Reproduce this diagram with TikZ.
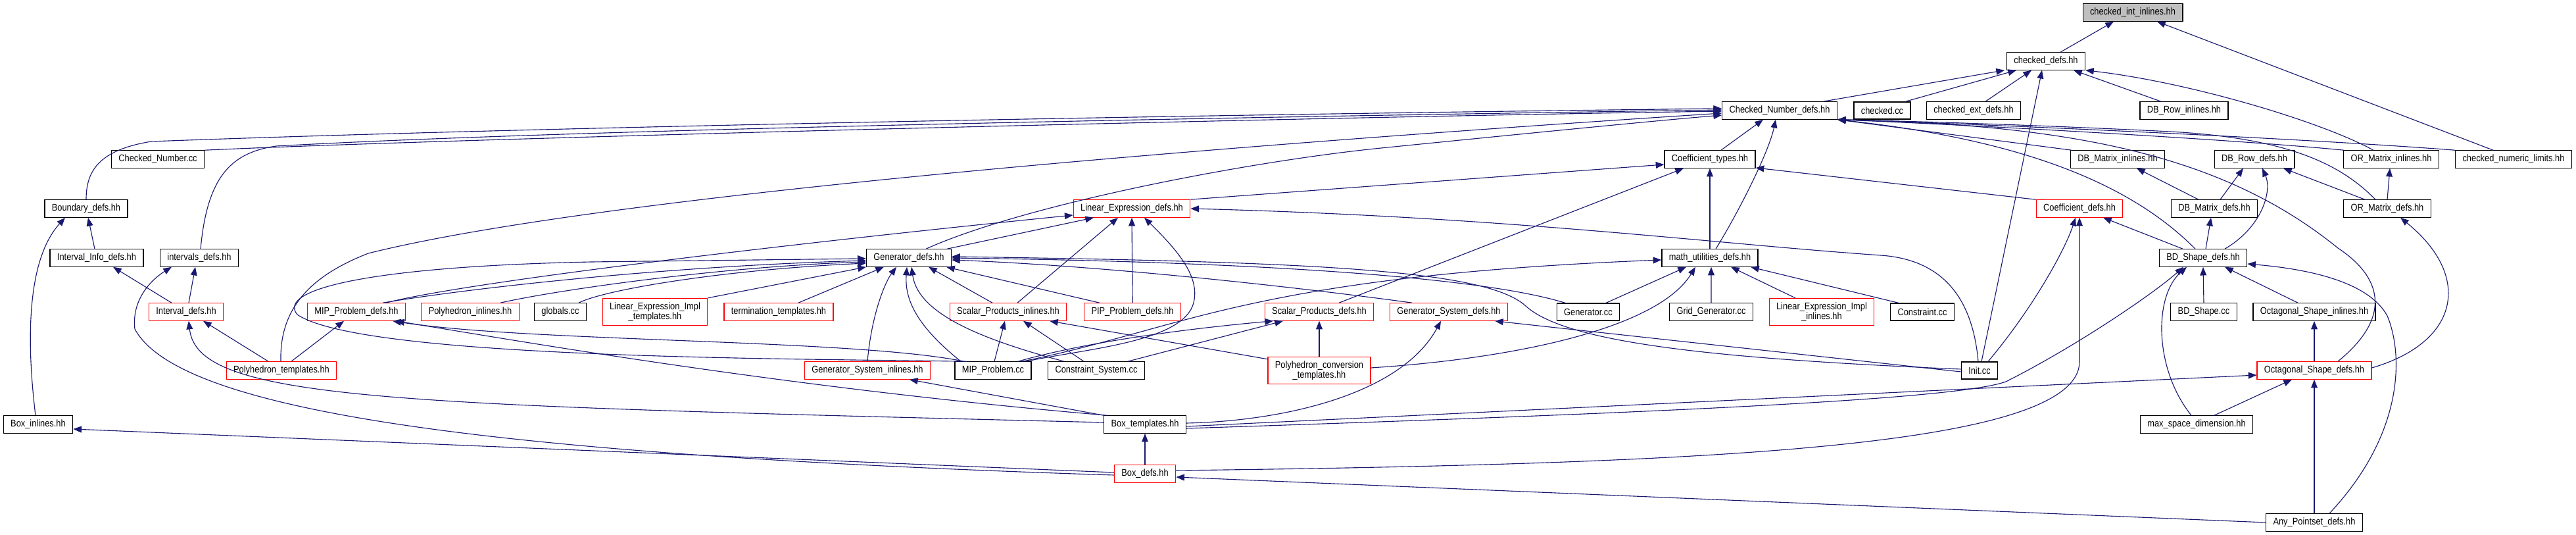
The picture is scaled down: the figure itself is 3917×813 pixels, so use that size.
\documentclass[tikz,border=0pt]{standalone}
\usepackage{fontspec}
\usetikzlibrary{arrows.meta}
\newfontfamily\doxfont{Liberation Sans}[FakeStretch=0.87]
\definecolor{edgeblue}{HTML}{191970}
\definecolor{rootgray}{HTML}{BFBFBF}
\begin{document}
\begin{tikzpicture}[x=0.01cm,y=-0.01cm,
 filebox/.style={draw=black,fill=white,line width=.35pt,inner xsep=3.1pt,inner ysep=1.8pt,minimum height=.26cm,align=center,font=\doxfont\fontsize{4.2}{4.2}\selectfont},
 redbox/.style={filebox,draw=red},
 rootbox/.style={filebox,fill=rootgray},
 incl/.style={draw=edgeblue,line width=.32pt,-{Triangle[length=3.6pt,width=2.8pt]}}]
 \useasboundingbox (0,0) rectangle (3917,813);
 \node[rootbox] (cii) at (3243,19) {checked\_int\_inlines.hh};
 \node[filebox] (cdefs) at (3111,93) {checked\_defs.hh};
 \node[filebox] (cnd) at (2706,168) {Checked\_Number\_defs.hh};
 \node[filebox] (ccc) at (2862,168) {checked.cc};
 \node[filebox] (cext) at (3001,168) {checked\_ext\_defs.hh};
 \node[filebox] (dbri) at (3321,168) {DB\_Row\_inlines.hh};
 \node[filebox] (cncc) at (240,242) {Checked\_Number.cc};
 \node[filebox] (ctypes) at (2600,242) {Coefficient\_types.hh};
 \node[filebox] (dbmi) at (3220,242) {DB\_Matrix\_inlines.hh};
 \node[filebox] (dbrd) at (3428,242) {DB\_Row\_defs.hh};
 \node[filebox] (ormi) at (3636,242) {OR\_Matrix\_inlines.hh};
 \node[filebox] (cnl) at (3822,242) {checked\_numeric\_limits.hh};
 \node[filebox] (bnd) at (131,317) {Boundary\_defs.hh};
 \node[redbox] (led) at (1721,317) {Linear\_Expression\_defs.hh};
 \node[redbox] (cdef) at (3162,317) {Coefficient\_defs.hh};
 \node[filebox] (dbmd) at (3367,317) {DB\_Matrix\_defs.hh};
 \node[filebox] (ormd) at (3630,317) {OR\_Matrix\_defs.hh};
 \node[filebox] (iid) at (147,392) {Interval\_Info\_defs.hh};
 \node[filebox] (ivd) at (303,392) {intervals\_defs.hh};
 \node[filebox] (gd) at (1382,392) {Generator\_defs.hh};
 \node[filebox] (mud) at (2600,392) {math\_utilities\_defs.hh};
 \node[filebox] (bdsd) at (3350,392) {BD\_Shape\_defs.hh};
 \node[redbox] (intd) at (283,474) {Interval\_defs.hh};
 \node[redbox] (mipd) at (542,474) {MIP\_Problem\_defs.hh};
 \node[redbox] (phi) at (715,474) {Polyhedron\_inlines.hh};
 \node[filebox] (glob) at (852,474) {globals.cc};
 \node[redbox] (leit) at (996,474) {Linear\_Expression\_Impl\\\_templates.hh};
 \node[redbox] (term) at (1184,474) {termination\_templates.hh};
 \node[redbox] (spi) at (1533,474) {Scalar\_Products\_inlines.hh};
 \node[redbox] (pipd) at (1722,474) {PIP\_Problem\_defs.hh};
 \node[redbox] (spd) at (2006,474) {Scalar\_Products\_defs.hh};
 \node[redbox] (gsd) at (2203,474) {Generator\_System\_defs.hh};
 \node[filebox] (gcc) at (2415,474) {Generator.cc};
 \node[filebox] (ggcc) at (2602,474) {Grid\_Generator.cc};
 \node[redbox] (leii) at (2770,474) {Linear\_Expression\_Impl\\\_inlines.hh};
 \node[filebox] (ccc2) at (2923,474) {Constraint.cc};
 \node[filebox] (bdscc) at (3351,474) {BD\_Shape.cc};
 \node[filebox] (osi) at (3519,474) {Octagonal\_Shape\_inlines.hh};
 \node[redbox] (pht) at (428,563) {Polyhedron\_templates.hh};
 \node[redbox] (gsi) at (1319,563) {Generator\_System\_inlines.hh};
 \node[filebox] (mipcc) at (1510,563) {MIP\_Problem.cc};
 \node[filebox] (cscc) at (1667,563) {Constraint\_System.cc};
 \node[redbox] (phct) at (2006,563) {Polyhedron\_conversion\\\_templates.hh};
 \node[filebox] (init) at (3010,563) {Init.cc};
 \node[redbox] (osd) at (3519,563) {Octagonal\_Shape\_defs.hh};
 \node[filebox] (boxi) at (58,645) {Box\_inlines.hh};
 \node[filebox] (boxt) at (1741,645) {Box\_templates.hh};
 \node[filebox] (msd) at (3340,645) {max\_space\_dimension.hh};
 \node[redbox] (boxd) at (1741,720) {Box\_defs.hh};
 \node[filebox] (apd) at (3519,794) {Any\_Pointset\_defs.hh};
 \draw[incl] ([xshift=.22cm]cdefs.north) -- ([xshift=-.29cm]cii.south);
 \draw[incl] ([xshift=-.31cm]cnl.north) -- ([xshift=.37cm]cii.south);
 \draw[incl] ([xshift=.66cm]cnd.north) -- ([xshift=-.63cm]cdefs.south);
 \draw[incl] ([xshift=.35cm]ccc.north) -- ([xshift=-.45cm]cdefs.south);
 \draw[incl] ([xshift=.18cm]cext.north) -- ([xshift=-.22cm]cdefs.south);
 \draw[incl] ([xshift=.03cm]init.north) -- ([xshift=-.06cm]cdefs.south);
 \draw[incl] ([xshift=-.35cm]dbri.north) -- ([xshift=.42cm]cdefs.south);
 \draw[incl] ([xshift=-.27cm]ormi.north) .. controls (3530,185) and (3330,125) .. (cdefs.south east);
 \draw[incl] (ormd.north) -- ([xshift=-.02cm]ormi.south);
 \draw[incl] ([xshift=-.34cm]ormd.north) -- ([xshift=.44cm]dbrd.south);
 \draw[incl] ([xshift=-.18cm]ormd.north) .. controls (3560,250) and (3480,210) .. (3300,200) .. controls (3100,190) and (2900,184) .. (cnd.south east);
 \draw[incl] ([xshift=-.7cm]dbmi.north) -- (cnd.south east);
 \draw[incl] ([xshift=-.72cm]ormi.north) .. controls (3400,212) and (3000,190) .. (cnd.south east);
 \draw[incl] ([xshift=-.89cm]cnl.north) .. controls (3500,210) and (3000,188) .. (cnd.south east);
 \draw[incl] ([xshift=-.12cm]bdsd.north) .. controls (3250,290) and (3100,215) .. (cnd.south east);
 \draw[incl] ([xshift=.36cm]osd.north) .. controls (3640,480) and (3620,420) .. (3555,377) .. controls (3380,235) and (3150,190) .. (cnd.south east);
 \draw[incl] ([xshift=-.24cm]dbmd.north) -- ([xshift=.29cm]dbmi.south);
 \draw[incl] ([xshift=.09cm]dbmd.north) -- ([xshift=-.17cm]dbrd.south);
 \draw[incl] ([xshift=.33cm]bdsd.north) .. controls (3440,345) and (3455,290) .. ([xshift=.12cm]dbrd.south);
 \draw[incl] ([xshift=.04cm]bdsd.north) -- ([xshift=-.05cm]dbmd.south);
 \draw[incl] ([xshift=-.31cm]bdsd.north) -- ([xshift=.36cm]cdef.south);
 \draw[incl] ([xshift=-.25cm]osi.north) -- ([xshift=.33cm]bdsd.south);
 \draw[incl] (bdscc.north) -- (bdsd.south);
 \draw[incl] ([xshift=-.08cm]msd.north) .. controls (3275,560) and (3275,450) .. ([xshift=-.25cm]bdsd.south);
 \draw[incl] ([xshift=.27cm]msd.north) -- ([xshift=-.34cm]osd.south);
 \draw[incl] (apd.north) -- (osd.south);
 \draw[incl] ([xshift=.23cm]apd.north) .. controls (3655,660) and (3655,540) .. (3630,480) .. controls (3600,425) and (3500,408) .. ([yshift=-.09cm]bdsd.east);
 \draw[incl] (osd.north) -- (osi.south);
 \draw[incl] ([yshift=.04cm]osd.east) .. controls (3740,520) and (3760,420) .. ([xshift=.2cm]ormd.south);
 \draw[incl] (apd.west) -- ([yshift=-.05cm]boxd.east);
 \draw[incl] ([yshift=.05cm]boxd.east) .. controls (2600,705) and (3160,680) .. (3162,550) -- (cdef.south);
 \draw[incl] (boxd.north) -- (boxt.south);
 \draw[incl] ([yshift=.02cm]boxd.west) -- ([yshift=-.07cm]boxi.east);
 \draw[incl] ([yshift=-.02cm]boxd.west) .. controls (700,690) and (270,620) .. (205,500) .. controls (200,455) and (230,425) .. ([xshift=-.42cm]ivd.south);
 \draw[incl] ([xshift=-.04cm]boxi.north) .. controls (38,500) and (45,390) .. ([xshift=-.32cm]bnd.south);
 \draw[incl] ([xshift=-.03cm]iid.north) -- ([xshift=.03cm]bnd.south);
 \draw[incl] ([xshift=-.22cm]intd.north) -- ([xshift=.25cm]iid.south);
 \draw[incl] ([xshift=.04cm]intd.north) -- ([xshift=-.06cm]ivd.south);
 \draw[incl] ([xshift=-.2cm]pht.north) -- ([xshift=.26cm]intd.south);
 \draw[incl] ([xshift=.15cm]pht.north) -- ([xshift=-.19cm]mipd.south);
 \draw[incl] ([yshift=.03cm]boxt.west) .. controls (600,615) and (300,610) .. ([xshift=.04cm]intd.south);
 \draw[incl] ([xshift=.02cm]ivd.north) .. controls (315,270) and (350,232) .. (420,222) .. controls (900,195) and (2000,176) .. ([yshift=.01cm]cnd.west);
 \draw[incl] (bnd.north) .. controls (131,260) and (150,228) .. (230,215) .. controls (900,190) and (2000,172) .. ([yshift=.03cm]cnd.west);
 \draw[incl] (cncc.north east) .. controls (700,210) and (2000,178) .. ([yshift=-.01cm]cnd.west);
 \draw[incl] ([xshift=.26cm]gd.north) .. controls (1560,310) and (1900,245) .. (2100,225) .. controls (2300,205) and (2500,185) .. ([yshift=-.07cm]cnd.west);
 \draw[incl] ([xshift=-.01cm]pht.north) .. controls (425,470) and (470,420) .. (560,385) .. controls (900,300) and (1800,225) .. ([yshift=-.04cm]cnd.west);
 \draw[incl] ([xshift=.58cm]gd.north) -- ([xshift=-.58cm]led.south);
 \draw[incl] ([xshift=.14cm]spi.north) -- ([xshift=-.21cm]led.south);
 \draw[incl] (pipd.north) -- (led.south);
 \draw[incl] ([xshift=.5cm]mipcc.north) .. controls (1650,530) and (1800,520) .. (1815,460) .. controls (1825,420) and (1790,380) .. ([xshift=.19cm]led.south);
 \draw[incl] ([xshift=-.02cm]init.north) .. controls (3000,460) and (2960,395) .. (2860,388) .. controls (2600,370) and (2300,330) .. (led.east);
 \draw[incl] (led.north east) -- ([yshift=-.08cm]ctypes.west);
 \draw[incl] ([xshift=.45cm]mipd.north) .. controls (700,430) and (1200,370) .. ([yshift=-.1cm]led.west);
 \draw[incl] ([xshift=.4cm]mipd.north) .. controls (700,440) and (1000,405) .. ([yshift=-.04cm]gd.west);
 \draw[incl] ([xshift=.46cm]phi.north) .. controls (850,440) and (1100,405) .. ([yshift=-.06cm]gd.west);
 \draw[incl] ([xshift=.28cm]glob.north) .. controls (920,440) and (1100,410) .. ([yshift=-.08cm]gd.west);
 \draw[incl] ([xshift=-.4cm]mipcc.north) .. controls (1200,545) and (550,545) .. (452,478) .. controls (420,440) and (560,405) .. (900,398) -- ([yshift=-.01cm]gd.west);
 \draw[incl] (leit.north east) -- (gd.south west);
 \draw[incl] ([xshift=.3cm]term.north) -- ([xshift=-.38cm]gd.south);
 \draw[incl] (gsi.north) .. controls (1325,480) and (1345,430) .. ([xshift=-.19cm]gd.south);
 \draw[incl] ([xshift=-.49cm]mipcc.north) .. controls (1400,500) and (1375,460) .. ([xshift=-.03cm]gd.south);
 \draw[incl] ([xshift=-.49cm]cscc.north) .. controls (1470,510) and (1395,470) .. ([xshift=.04cm]gd.south);
 \draw[incl] ([xshift=-.24cm]spi.north) -- ([xshift=.3cm]gd.south);
 \draw[incl] ([xshift=-.5cm]pipd.north) -- ([xshift=.57cm]gd.south);
 \draw[incl] ([xshift=.02cm]mipcc.north) -- ([xshift=-.05cm]spi.south);
 \draw[incl] ([xshift=-.19cm]cscc.north) -- ([xshift=.23cm]spi.south);
 \draw[incl] ([yshift=-.04cm]phct.north west) -- ([xshift=.63cm]spi.south);
 \draw[incl] ([xshift=.38cm]mipcc.north) .. controls (1650,520) and (1800,500) .. ([xshift=-.7cm]spd.south);
 \draw[incl] ([xshift=.48cm]cscc.north) -- ([xshift=-.55cm]spd.south);
 \draw[incl] (phct.north) -- (spd.south);
 \draw[incl] ([xshift=.3cm]spd.north) -- ([xshift=-.4cm]ctypes.south);
 \draw[incl] ([xshift=.44cm]mipcc.north) .. controls (1800,500) and (1900,420) .. ([yshift=-.03cm]mud.west);
 \draw[incl] ([xshift=-.56cm]gsd.north) .. controls (2000,440) and (1700,405) .. ([yshift=-.03cm]gd.east);
 \draw[incl] ([xshift=-.35cm]gcc.north) .. controls (2250,420) and (1900,398) .. (gd.east);
 \draw[incl] ([yshift=.02cm]init.west) .. controls (2600,545) and (2380,520) .. (2320,465) .. controls (2260,410) and (2000,398) .. ([yshift=.02cm]gd.east);
 \draw[incl] ([yshift=-.02cm]init.west) -- ([xshift=.7cm]gsd.south);
 \draw[incl] ([xshift=.27cm]gcc.north) -- ([xshift=-.36cm]mud.south);
 \draw[incl] (ggcc.north) -- ([xshift=.02cm]mud.south);
 \draw[incl] ([xshift=-.4cm]leii.north) -- ([xshift=.32cm]mud.south);
 \draw[incl] ([xshift=-.36cm]ccc2.north) -- ([xshift=.62cm]mud.south);
 \draw[incl] ([yshift=.04cm]phct.east) .. controls (2300,545) and (2520,500) .. ([xshift=-.22cm]mud.south);
 \draw[incl] (mud.north) -- (ctypes.south);
 \draw[incl] ([xshift=.09cm]mud.north) .. controls (2645,320) and (2690,230) .. ([xshift=-.06cm]cnd.south);
 \draw[incl] ([xshift=.17cm]ctypes.north) -- ([xshift=-.25cm]cnd.south);
 \draw[incl] (cdef.north west) -- ([yshift=-.13cm]ctypes.east);
 \draw[incl] ([xshift=.13cm]init.north) .. controls (3090,470) and (3140,380) .. ([xshift=-.06cm]cdef.south);
 \draw[incl] ([yshift=-.03cm]boxt.east) -- ([yshift=-.07cm]osd.west);
 \draw[incl] ([yshift=-.06cm]boxt.east) .. controls (2600,625) and (2980,605) .. (3050,580) .. controls (3150,530) and (3270,450) .. ([xshift=-.3cm]bdsd.south);
 \draw[incl] ([yshift=.02cm]boxt.east) .. controls (1950,640) and (2130,600) .. ([xshift=-.12cm]gsd.south);
 \draw[incl] (boxt.north west) -- ([xshift=.64cm]gsi.south);
 \draw[incl] ([xshift=-.58cm]boxt.north) .. controls (1200,590) and (800,520) .. ([xshift=.6cm]mipd.south);
 \draw[incl] ([xshift=-.44cm]mipcc.north) .. controls (1300,515) and (800,520) .. ([xshift=.55cm]mipd.south);
\end{tikzpicture}
\end{document}
